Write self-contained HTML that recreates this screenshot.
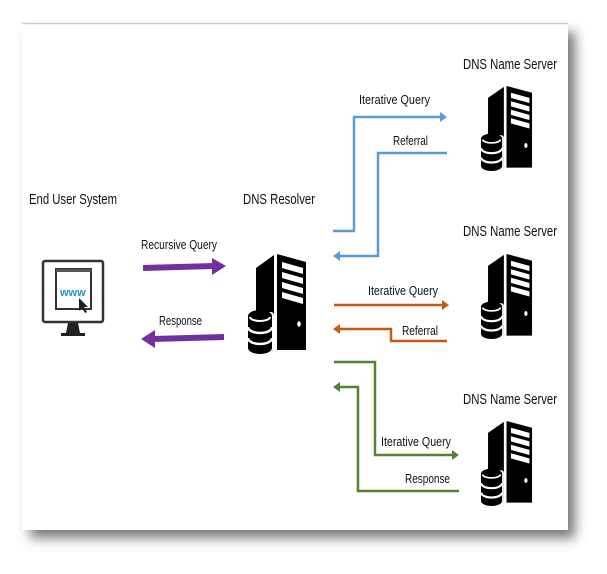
<!DOCTYPE html>
<html><head><style>
html,body{margin:0;padding:0;background:#fff;width:607px;height:574px;overflow:hidden}
svg{display:block}
text{font-family:"Liberation Sans Narrow","Liberation Sans",sans-serif;fill:#111}
</style></head><body>
<svg width="607" height="574" viewBox="0 0 607 574">
<defs>
<filter id="sh" x="-10%" y="-10%" width="130%" height="130%"><feGaussianBlur stdDeviation="6"/></filter>
<g id="srv">
  <polygon points="8,14 26,1 26,96 8,96" fill="#000"/>
  <polygon points="29,0 58,8 58,96 29,96" fill="#000"/>
  <polygon points="34,8 55,14 55,20 34,14" fill="#fff"/>
  <polygon points="34,18 55,24 55,30 34,24" fill="#fff"/>
  <polygon points="34,28 55,34 55,40 34,34" fill="#fff"/>
  <polygon points="34,38 55,44 55,50 34,44" fill="#fff"/>
  <ellipse cx="51" cy="70" rx="1.8" ry="2.8" fill="#fff"/>
  <rect x="-2" y="58" width="28" height="42" rx="3" fill="#fff"/>
  <path d="M0,62 a12,6 0 0 1 24,0 v32 a12,6 0 0 1 -24,0z" fill="#000"/>
  <path d="M2,63 a10,4 0 0 0 20,0" stroke="#fff" stroke-width="2" fill="none"/>
  <path d="M0,73 a12,6 0 0 0 24,0" stroke="#fff" stroke-width="2.5" fill="none"/>
  <path d="M0,84 a12,6 0 0 0 24,0" stroke="#fff" stroke-width="2.5" fill="none"/>
</g>
</defs>
<rect x="30" y="32" width="545" height="506" fill="#555" filter="url(#sh)" opacity="0.8"/>
<rect x="22" y="23" width="546" height="507" fill="#fff"/>
<line x1="22" y1="23.5" x2="568" y2="23.5" stroke="#c5cfe0" stroke-width="1.5"/>

<g font-size="15">
<text x="29" y="204" textLength="88" lengthAdjust="spacingAndGlyphs">End User System</text>
<text x="243" y="204" textLength="72" lengthAdjust="spacingAndGlyphs">DNS Resolver</text>
<text x="463" y="69" textLength="94" lengthAdjust="spacingAndGlyphs">DNS Name Server</text>
<text x="463" y="236" textLength="94" lengthAdjust="spacingAndGlyphs">DNS Name Server</text>
<text x="463" y="404" textLength="94" lengthAdjust="spacingAndGlyphs">DNS Name Server</text>
</g>
<g font-size="13">
<text x="141" y="249" textLength="76" lengthAdjust="spacingAndGlyphs">Recursive Query</text>
<text x="159" y="325" textLength="43" lengthAdjust="spacingAndGlyphs">Response</text>
<text x="359" y="104" textLength="71" lengthAdjust="spacingAndGlyphs">Iterative Query</text>
<text x="393" y="145" textLength="35" lengthAdjust="spacingAndGlyphs">Referral</text>
<text x="368" y="295" textLength="70" lengthAdjust="spacingAndGlyphs">Iterative Query</text>
<text x="402" y="335" textLength="36" lengthAdjust="spacingAndGlyphs">Referral</text>
<text x="381" y="446" textLength="70" lengthAdjust="spacingAndGlyphs">Iterative Query</text>
<text x="405" y="483" textLength="45" lengthAdjust="spacingAndGlyphs">Response</text>
</g>

<!-- monitor -->
<rect x="43" y="261" width="60" height="61" rx="2" fill="#fff" stroke="#333" stroke-width="2.5"/>
<rect x="56" y="269" width="35" height="40" fill="#fff" stroke="#333" stroke-width="2"/>
<rect x="56" y="269" width="35" height="3" fill="#555"/>
<text x="60" y="296" font-size="11" style="fill:#1e90d6;font-weight:bold;font-family:'Liberation Sans',sans-serif">www</text>
<path d="M79,298 l0,13 l3,-3 l3,5 l2,-1 l-3,-5 l4,0z" fill="#222"/>
<path d="M68,323 h10 l2,10 h5 v3 h-24 v-3 h5z" fill="#222"/>

<!-- purple -->
<line x1="143" y1="268" x2="214" y2="266" stroke="#7030a0" stroke-width="6"/>
<polygon points="212,258 226,266 212,275" fill="#7030a0"/>
<line x1="224" y1="337" x2="153" y2="339" stroke="#7030a0" stroke-width="6"/>
<polygon points="155,330 141,339 155,348" fill="#7030a0"/>

<!-- servers -->
<use href="#srv" transform="translate(248,254)"/>
<use href="#srv" transform="translate(481,86) scale(0.88,0.85)"/>
<use href="#srv" transform="translate(481,254) scale(0.88,0.85)"/>
<use href="#srv" transform="translate(481,421) scale(0.88,0.85)"/>

<g fill="none" stroke-width="2.5">
<polyline points="333,231 354,231 354,117 441,117" stroke="#5b9bd5"/>
<polyline points="447,153 378,153 378,256 338,256" stroke="#5b9bd5"/>
<polyline points="334,305 443,305" stroke="#c55a11"/>
<polyline points="447,341 391,341 391,329 338,329" stroke="#c55a11"/>
<polyline points="334,362 375,362 375,455 454,455" stroke="#548235"/>
<polyline points="459,491 358,491 358,387 338,387" stroke="#548235"/>
</g>
<polygon points="440,112 447,117 440,122" fill="#5b9bd5"/>
<polygon points="340,251 333,256 340,261" fill="#5b9bd5"/>
<polygon points="442,300 449,305 442,310" fill="#c55a11"/>
<polygon points="340,324 333,329 340,334" fill="#c55a11"/>
<polygon points="452,450 459,455 452,460" fill="#548235"/>
<polygon points="340,382 333,387 340,392" fill="#548235"/>
</svg>
</body></html>
